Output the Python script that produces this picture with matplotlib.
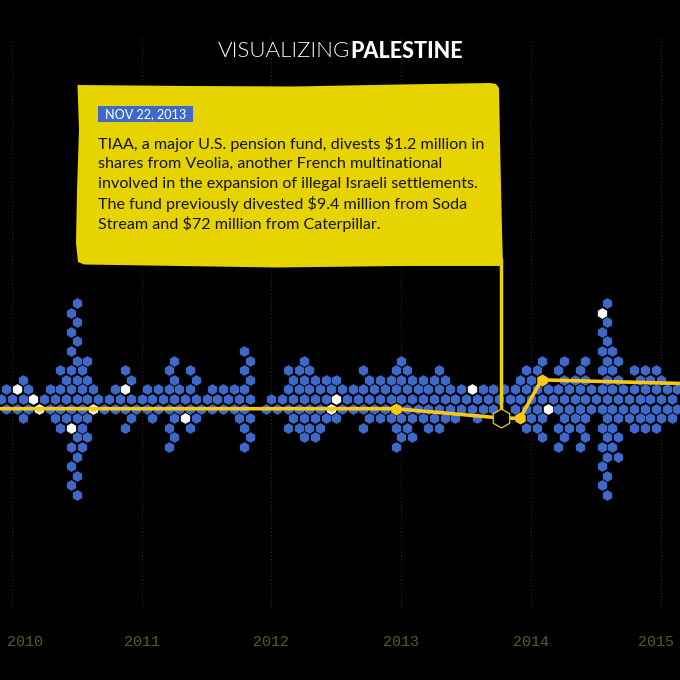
import matplotlib
matplotlib.use('Agg')
import matplotlib.pyplot as plt
from matplotlib.patches import Polygon, Rectangle

# events per half-month bin, one list of bin numbers for each stacked row
rows = {
    11: [14, 112],
    10: [13],
    9: [14, 112],
    8: [13, 111],
    7: [14, 112],
    6: [13, 45, 111, 113],
    5: [14, 16, 32, 46, 56, 74, 100, 104, 108, 112, 114],
    4: [11, 13, 15, 23, 31, 35, 45, 53, 55, 57, 67, 73, 75, 81, 97, 99, 103, 107, 111, 113, 117, 119, 121],
    3: [4, 12, 14, 16, 24, 32, 36, 46, 54, 56, 58, 60, 62, 68, 70, 72, 74, 76, 78, 80, 82, 96, 98, 100,
        104, 106, 108, 112, 114, 118, 120, 122],
    2: [1, 5, 9, 11, 13, 15, 17, 21, 27, 29, 31, 33, 35, 39, 41, 43, 45] + list(range(53, 87, 2)) +
       list(range(89, 127, 2)),
    1: list(range(0, 6, 2)) + list(range(8, 48, 2)) + list(range(50, 62, 2)) + list(range(64, 126, 2)),
    0: [1, 3, 5] + list(range(9, 17, 2)) + list(range(19, 47, 2)) + list(range(49, 61, 2)) +
       list(range(63, 93, 2)) + list(range(95, 101, 2)) + list(range(103, 127, 2)),
    -1: [4, 10, 12, 14, 16, 24, 28, 32, 36, 44, 46, 54, 56, 58, 60, 62, 68, 70, 72, 74, 76, 78, 80, 82, 84,
         88, 98, 100, 104, 106, 108, 112, 114, 116, 118, 120, 122, 124],
    -2: [11, 15, 23, 31, 35, 45, 53, 55, 57, 59, 67, 73, 75, 79, 81, 97, 99, 103, 105, 107, 111, 113, 117,
         119, 121],
    -3: [14, 16, 32, 46, 56, 58, 74, 76, 100, 104, 108, 112, 114],
    -4: [13, 15, 31, 45, 73, 103, 107, 111, 113],
    -5: [14, 112, 114],
    -6: [13, 111],
    -7: [14, 112],
    -8: [13, 111],
    -9: [14, 112],
}
# highlighted events (row, bin)
white_rows = [2, 1, 0, 0, -2, 2, -1, 1, 0, 2, 0, 10]
white_bins = [3, 6, 7, 17, 13, 23, 34, 62, 61, 87, 101, 111]

# cumulative line
line_years = [2009.90, 2010.208, 2010.626, 2012.458, 2012.958, 2013.765, 2013.913, 2014.079, 2015.17]
line_values = [0, 0, 0, 0, 0, -0.97, -1, 3.0, 2.62]
small_idx = [1, 2, 3]
big_idx = [4, 6, 7]

years = [2010, 2011, 2012, 2013, 2014, 2015]

title_light = 'VISUALIZING'
title_bold = 'PALESTINE'
badge = 'NOV 22, 2013'
body = ['TIAA, a major U.S. pension fund, divests $1.2 million in',
        'shares from Veolia, another French multinational',
        'involved in the expansion of illegal Israeli settlements.',
        'The fund previously divested $9.4 million from Soda',
        'Stream and $72 million from Caterpillar.']

BLUE = '#3f69c8'
YELLOW = '#f7c815'
BOX = '#e6d300'
OLIVE = '#5f5a22'
HEX = 60


def bin_to_year(b):
    return 2010 + (b - 2) / 24


fig = plt.figure(figsize=(6.8, 6.8), dpi=100, facecolor='black')
ax = fig.add_axes([0, 0, 1, 1], facecolor='black')
ax.set_xlim(2009.91, 2015.145)
ax.set_ylim(-28.26, 42.57)
ax.axis('off')

# year grid
for y in years:
    ax.plot([y, y], [-20.7, 38.7], color='#33331f', lw=0.7, ls=(0, (1, 2.5)), zorder=1)

# hexagons
for r, bins in rows.items():
    ax.scatter([bin_to_year(b) for b in bins], [r] * len(bins), marker='h', s=HEX, color=BLUE,
               linewidths=0, zorder=2)
ax.scatter([bin_to_year(b) for b in white_bins], white_rows, marker='h', s=HEX, color='white',
           linewidths=0, zorder=3)

# line and its markers
ax.plot(line_years, line_values, color=YELLOW, lw=2.6, zorder=4, solid_joinstyle='round')
ax.scatter([line_years[i] for i in small_idx], [line_values[i] for i in small_idx], marker='h', s=22,
           color=YELLOW, alpha=0.8, linewidths=0, zorder=5)
ax.scatter([line_years[i] for i in big_idx], [line_values[i] for i in big_idx], marker='h', s=76,
           color=YELLOW, linewidths=0, zorder=5)

# year labels
label_x = [2010.1, 2011, 2012, 2013, 2014, 2014.96]
for x, y in zip(label_x, years):
    ax.text(x, -24.25, str(y), color=OLIVE, fontsize=10.8, family='Liberation Mono', ha='center', va='center')

# callout is laid out in pixels on top
over = fig.add_axes([0, 0, 1, 1], facecolor='none')
over.set_xlim(0, 680)
over.set_ylim(680, 0)
over.axis('off')

outline = [(77.5, 85), (190, 86), (293, 86.5), (400, 84.5), (490, 83), (496, 84), (499, 88), (500, 140),
           (502, 230), (503, 266), (400, 266), (277, 267.5), (180, 266), (84, 264.5), (78, 262), (76, 243),
           (77, 190), (79, 130)]
over.add_patch(Polygon(outline, closed=True, facecolor=BOX, edgecolor='none', zorder=6))
over.plot([500.7, 500.7], [260, 410], color=BOX, lw=2.5, zorder=6)
over.scatter([500.7], [418], marker='h', s=187, facecolor='black', edgecolor=BOX, linewidths=0.9, zorder=7)

over.add_patch(Rectangle((98, 106), 95, 16, facecolor=BLUE, edgecolor='none', zorder=7))
over.text(105, 114.5, badge, color='white', fontsize=9.1, family='Lato', va='center', ha='left', zorder=8)
for i, s in enumerate(body):
    over.text(98, 144 + 20 * i, s, color='#14140a', fontsize=11.6, family='Lato', va='center', ha='left',
              zorder=8)

over.text(218, 51, title_light, color='white', fontsize=16, family='Lato', weight=300, va='center', ha='left')
over.text(463.5, 51, title_bold, color='white', fontsize=15.5, family='Lato', weight=900, va='center', ha='right')

fig.savefig('out.png', dpi=100, facecolor='black')
